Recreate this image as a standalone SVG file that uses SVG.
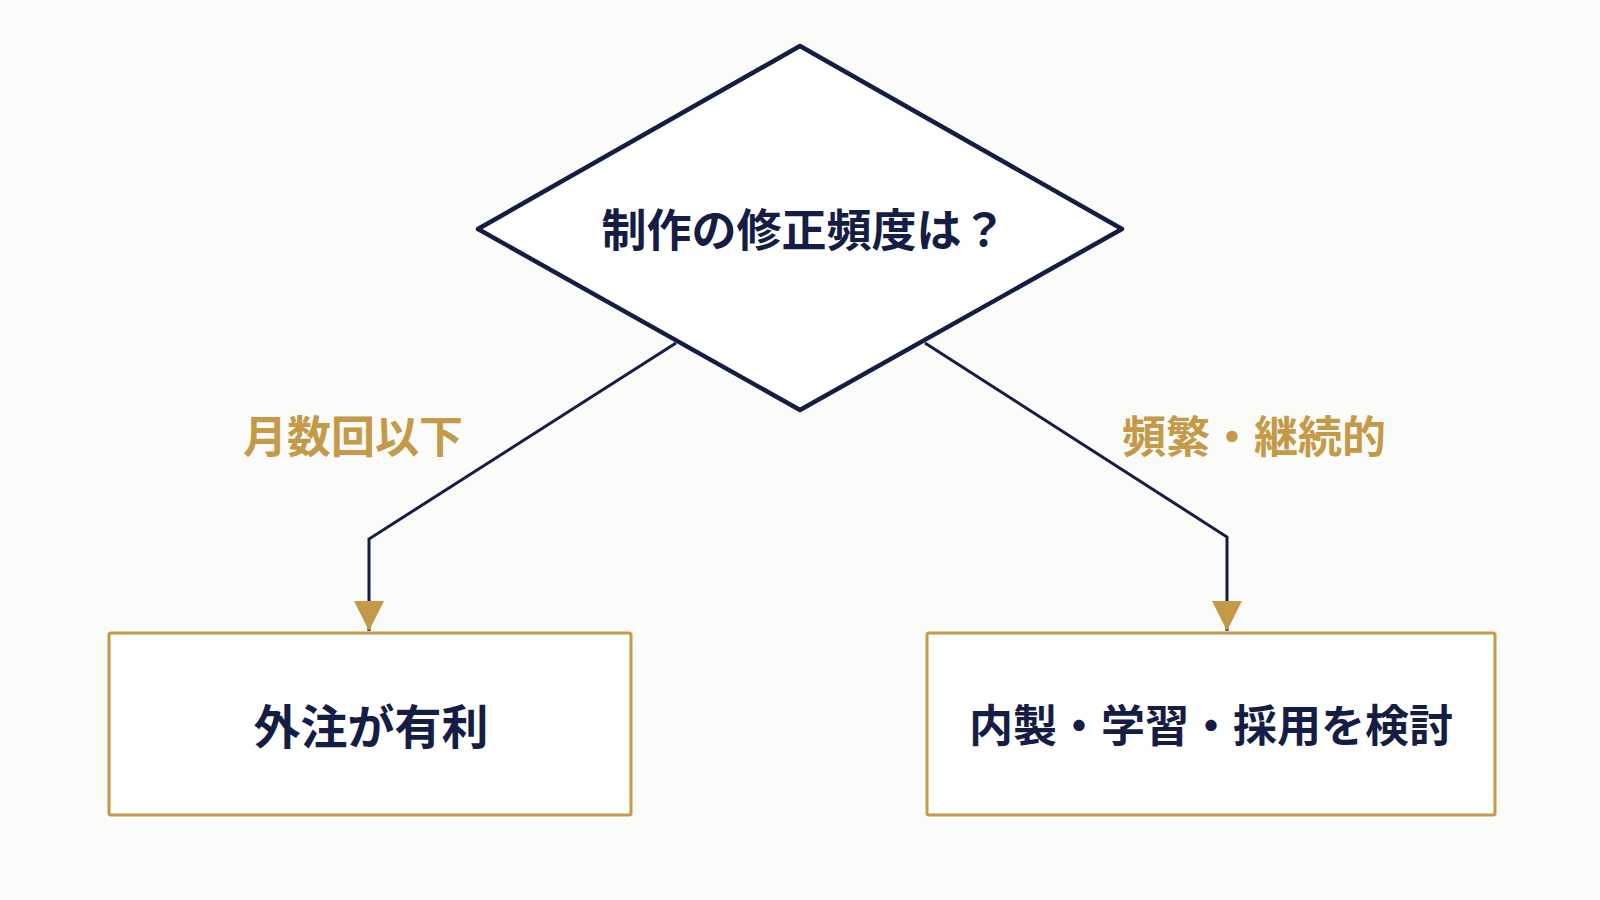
<svg xmlns="http://www.w3.org/2000/svg" width="1600" height="900" viewBox="0 0 1600 900">
<style>
.t{font-family:"Noto Sans CJK JP","Noto Sans",sans-serif;font-weight:700;text-anchor:middle;dominant-baseline:central}
.n{fill:#151d45}
.g{fill:#c49a48}
.box{fill:#fff;stroke:#c49a48;stroke-width:3}
.ln{fill:none;stroke:#151d45;stroke-width:3}
</style>
<defs><marker id="ah" viewBox="0 0 10 10" refX="10" refY="5" markerWidth="38" markerHeight="30" markerUnits="userSpaceOnUse" orient="auto"><path d="M0,0L10,5L0,10z" fill="#c49a48"/></marker></defs>
<rect width="1600" height="900" fill="#fbfbfa"/>
<g id="connectors">
<path class="ln" d="M676,343L369,539L369,631" marker-end="url(#ah)"/>
<path class="ln" d="M925,343L1227,537L1227,631" marker-end="url(#ah)"/>
<text class="t g" x="353" y="434" font-size="44">月数回以下</text>
<text class="t g" x="1254" y="434" font-size="44">頻繁・継続的</text>
</g>
<g id="decision">
<polygon points="800,46 1122,229 800,410 478,229" fill="#fff" stroke="#151d45" stroke-width="4.5" stroke-linejoin="round"/>
<text class="t n" x="804" y="227" font-size="45">制作の修正頻度は？</text>
</g>
<g id="outsource">
<rect class="box" x="109" y="633" width="522" height="182" rx="2"/>
<text class="t n" x="371" y="723" font-size="47">外注が有利</text>
</g>
<g id="inhouse">
<rect class="box" x="927" y="633" width="568" height="182" rx="2"/>
<text class="t n" x="1211" y="723" font-size="44">内製・学習・採用を検討</text>
</g>
</svg>
